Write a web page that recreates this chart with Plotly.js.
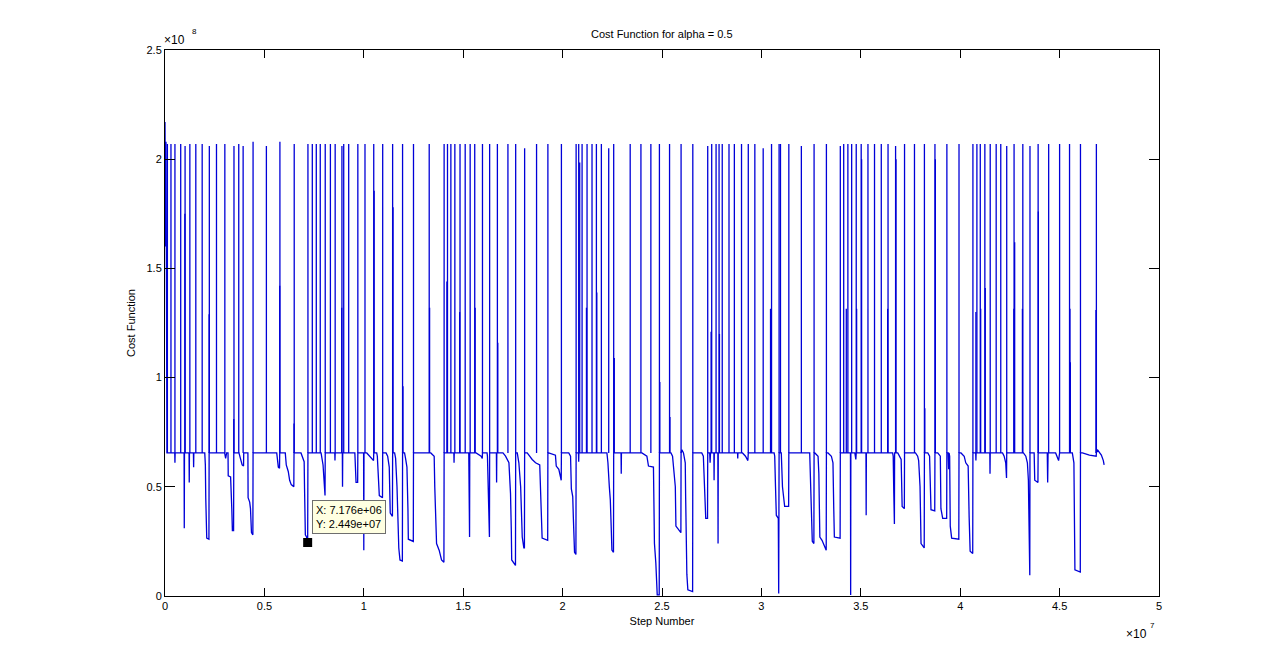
<!DOCTYPE html>
<html>
<head>
<meta charset="utf-8">
<script src="https://cdn.plot.ly/plotly-3.0.1.min.js"></script>
<style>html,body{margin:0;padding:0;background:#fff;}#chart{width:1280px;height:670px;}</style>
</head>
<body>
<div id="chart"></div>
<script>
// x in units of 1e7 steps, y in units of 1e8
const xScale = 1e7, yScale = 1e8;
const baseLevel = 0.655;

// running level of the cost function (baseline with dips)
const levelX = [0.000,0.003,0.005,0.007,0.010,
0.049,0.050,0.051,0.096,0.097,0.098,0.121,0.122,0.123,0.143,0.144,0.145,
0.200,0.203,0.205,0.207,0.210,0.221,0.222,0.300,0.305,0.310,
0.317,0.318,0.330,0.336,0.339,0.345,0.346,0.372,0.380,0.388,0.395,0.396,
0.417,0.418,0.426,0.430,0.435,0.442,0.443,0.562,0.570,0.576,0.577,
0.605,0.610,0.620,0.627,0.635,0.648,0.649,
0.684,0.690,0.700,0.702,0.706,0.712,0.7176,0.719,
0.785,0.795,0.800,0.805,0.806,0.854,0.855,0.856,0.892,0.893,0.894,
0.955,0.958,0.961,0.969,0.970,0.999,1.000,1.001,1.015,1.030,1.049,1.050,
1.065,1.068,1.073,1.078,1.094,1.095,
1.112,1.120,1.128,1.130,1.133,1.144,1.145,
1.155,1.160,1.167,1.172,1.176,1.182,1.194,1.195,
1.205,1.210,1.217,1.222,1.224,1.249,1.250,
1.337,1.354,1.357,1.362,1.366,1.379,1.391,1.403,1.404,
1.453,1.454,1.455,1.528,1.529,1.530,1.532,1.533,
1.565,1.590,1.596,1.597,1.620,1.622,1.625,1.630,1.632,1.633,
1.667,1.668,1.669,
1.700,1.713,1.730,1.738,1.742,1.744,1.763,1.764,
1.772,1.780,1.789,1.797,1.805,1.808,1.809,
1.822,1.847,1.864,1.885,1.889,1.895,1.897,1.925,1.926,
1.930,1.964,1.968,1.981,1.993,1.994,
2.031,2.040,2.044,2.051,2.054,2.060,2.067,2.068,2.080,2.081,2.082,
2.223,2.228,2.235,2.240,2.245,2.248,2.256,2.257,2.294,2.295,2.296,
2.399,2.424,2.432,2.457,2.462,2.469,2.476,2.486,2.487,
2.545,2.553,2.563,2.567,2.570,2.590,2.595,2.596,
2.600,2.608,2.617,2.619,2.621,2.625,2.630,2.654,2.655,
2.700,2.708,2.717,2.720,2.729,2.730,2.740,2.742,2.744,2.761,2.762,2.763,2.781,2.782,2.783,
2.880,2.881,2.882,2.905,2.920,2.932,2.934,
3.064,3.067,3.071,3.075,3.085,3.087,3.089,
3.100,3.106,3.112,3.117,3.137,3.138,
3.243,3.248,3.251,3.256,3.264,3.265,
3.269,3.285,3.289,3.294,3.305,3.318,3.326,3.327,
3.335,3.352,3.360,3.364,3.367,3.396,3.397,
3.448,3.449,3.450,3.470,3.475,3.477,3.526,3.527,3.528,
3.660,3.663,3.666,3.669,3.670,
3.686,3.703,3.708,3.719,3.720,
3.775,3.786,3.791,3.798,3.803,3.819,3.820,
3.837,3.846,3.850,3.853,3.872,3.873,
3.887,3.900,3.903,3.912,3.932,3.933,
3.940,3.942,3.944,3.947,3.950,3.957,3.993,3.994,
4.004,4.020,4.028,4.040,4.045,4.050,4.063,4.064,
4.078,4.079,4.080,4.149,4.150,4.151,
4.213,4.221,4.229,4.233,4.234,
4.318,4.330,4.338,4.343,4.347,4.350,4.351,
4.372,4.375,4.391,4.392,4.438,4.440,4.442,4.480,4.495,4.500,
4.564,4.572,4.575,4.577,4.604,4.605,
4.615,4.650,4.684,4.685,4.690,4.700,4.710,4.720,4.724];

const levelY = [2.17,1.60,2.08,0.77,0.655,
0.655,0.61,0.655,0.655,0.31,0.655,0.655,0.52,0.655,0.655,0.59,0.655,
0.655,0.60,0.45,0.28,0.265,0.26,0.655,0.655,0.63,0.655,
0.655,0.55,0.545,0.40,0.30,0.30,0.655,0.655,0.63,0.60,0.595,0.655,
0.655,0.45,0.43,0.40,0.29,0.28,0.655,0.655,0.59,0.585,0.655,
0.655,0.60,0.57,0.53,0.51,0.50,0.655,
0.655,0.64,0.615,0.49,0.28,0.27,0.2449,0.655,
0.655,0.60,0.52,0.46,0.655,0.655,0.62,0.655,0.655,0.50,0.655,
0.655,0.60,0.52,0.52,0.655,0.655,0.21,0.655,0.655,0.64,0.62,0.655,
0.655,0.64,0.53,0.46,0.45,0.655,
0.655,0.64,0.59,0.50,0.38,0.365,0.655,
0.655,0.63,0.50,0.30,0.22,0.165,0.16,0.655,
0.655,0.63,0.59,0.40,0.26,0.25,0.655,
0.655,0.64,0.50,0.30,0.24,0.21,0.165,0.155,0.655,
0.655,0.61,0.655,0.655,0.45,0.655,0.27,0.655,
0.655,0.64,0.63,0.655,0.655,0.64,0.49,0.27,0.27,0.655,
0.655,0.52,0.655,
0.655,0.64,0.61,0.47,0.30,0.165,0.14,0.655,
0.655,0.61,0.50,0.27,0.22,0.22,0.655,
0.655,0.625,0.61,0.60,0.50,0.30,0.265,0.255,0.655,
0.655,0.645,0.595,0.58,0.53,0.655,
0.655,0.64,0.49,0.455,0.36,0.20,0.19,0.655,0.655,0.615,0.655,
0.655,0.61,0.50,0.44,0.30,0.21,0.20,0.655,0.655,0.56,0.655,
0.655,0.64,0.595,0.59,0.24,0.15,0.005,0.005,0.655,
0.655,0.64,0.56,0.50,0.32,0.30,0.29,0.655,
0.67,0.655,0.61,0.45,0.27,0.10,0.028,0.02,0.655,
0.655,0.64,0.43,0.355,0.355,0.655,0.655,0.61,0.655,0.655,0.53,0.655,0.655,0.24,0.655,
0.655,0.63,0.655,0.655,0.64,0.62,0.655,
0.655,0.64,0.50,0.37,0.355,0.012,0.655,
0.655,0.50,0.44,0.41,0.41,0.655,
0.655,0.50,0.30,0.25,0.24,0.655,
0.655,0.64,0.56,0.27,0.255,0.23,0.21,0.655,
0.655,0.64,0.61,0.40,0.27,0.265,0.655,
0.655,0.005,0.655,0.655,0.625,0.655,0.655,0.37,0.655,
0.655,0.64,0.47,0.33,0.655,
0.655,0.625,0.41,0.40,0.655,
0.655,0.64,0.62,0.50,0.24,0.22,0.655,
0.655,0.64,0.52,0.395,0.39,0.655,
0.655,0.64,0.40,0.355,0.355,0.655,
0.655,0.58,0.655,0.64,0.32,0.265,0.26,0.655,
0.655,0.64,0.61,0.595,0.36,0.205,0.195,0.655,
0.655,0.62,0.655,0.655,0.56,0.655,
0.655,0.64,0.61,0.54,0.655,
0.655,0.64,0.61,0.53,0.095,0.095,0.655,
0.655,0.53,0.52,0.655,0.655,0.52,0.655,0.655,0.62,0.655,
0.655,0.61,0.40,0.12,0.11,0.655,
0.655,0.645,0.64,0.655,0.67,0.655,0.645,0.62,0.60];

// single-sample spikes (reset events)
const spikeX = [0.012,0.030,0.050,0.079,0.100,0.101,0.125,0.155,0.187,0.222,0.223,0.259,0.301,0.346,0.347,0.371,0.393,0.443,0.510,0.577,0.578,0.649,0.650,
0.719,0.741,0.761,0.781,0.806,0.832,0.856,0.889,0.890,0.899,0.924,0.970,1.006,1.050,1.052,1.095,1.145,1.147,1.195,1.197,1.250,
1.329,1.331,1.404,1.418,1.421,1.438,1.458,1.482,1.484,1.510,1.535,1.558,1.560,1.597,1.633,1.672,1.674,1.725,1.764,1.809,1.869,1.926,
1.994,2.068,2.081,2.086,2.098,2.120,2.123,2.148,2.170,2.172,2.195,2.232,2.257,2.260,2.340,2.394,2.444,2.487,2.489,2.538,2.540,
2.596,2.655,2.730,2.747,2.750,2.772,2.787,2.789,2.803,2.837,2.864,2.900,2.934,2.967,3.009,3.046,3.051,3.089,3.096,3.138,
3.201,3.265,3.327,3.397,3.414,3.427,3.435,3.454,3.477,3.479,3.502,3.504,3.536,3.569,3.603,3.635,3.637,3.675,3.677,3.720,
3.770,3.820,3.822,3.873,3.875,3.933,3.994,4.064,4.079,4.084,4.101,4.103,4.124,4.126,4.151,4.181,4.204,4.234,4.270,4.271,
4.274,4.313,4.315,4.351,4.392,4.393,4.445,4.500,4.550,4.552,4.554,4.605,4.683,4.685];

const spikeTop = [2.07,2.07,2.07,2.07,1.75,2.06,2.07,2.07,2.07,1.29,2.06,2.07,2.07,0.81,2.06,2.07,2.06,2.08,2.06,1.42,2.08,0.79,2.07,
2.07,2.07,2.07,2.07,2.07,2.07,2.07,1.32,2.06,2.07,2.07,2.07,2.07,2.07,1.855,2.07,2.07,1.78,2.07,0.96,2.07,
2.07,1.32,2.07,1.44,2.07,2.07,2.07,1.30,2.07,2.07,2.07,2.07,1.32,2.07,2.07,2.07,1.16,2.07,2.07,2.05,2.07,2.07,
2.07,2.07,2.07,1.985,2.07,1.32,2.07,2.07,2.07,1.39,2.07,2.05,2.07,1.09,2.07,2.07,2.07,2.07,0.98,2.07,0.82,
2.07,2.07,2.06,1.21,2.07,2.07,2.07,1.20,2.07,2.07,2.07,2.07,2.07,2.07,2.05,1.315,2.07,2.07,2.07,2.07,
2.06,2.07,2.07,2.06,2.07,1.315,2.07,2.07,2.07,1.315,2.07,2.00,2.07,2.07,2.07,1.315,2.07,2.06,2.00,2.07,
2.07,2.07,0.86,2.07,2.00,2.07,2.07,2.07,1.30,2.07,2.07,1.315,2.07,1.41,2.07,2.07,2.07,2.06,1.315,2.07,
1.62,1.315,2.07,2.06,2.07,1.76,2.07,2.07,2.07,1.315,1.07,2.07,1.31,2.07];

// data tip
const tipX = 7.176e6, tipY = 2.449e7;

const xTicks = [0,0.5,1,1.5,2,2.5,3,3.5,4,4.5,5];
const yTicks = [0,0.5,1,1.5,2,2.5];
const xExp = 7, yExp = 8;

const sx = [], sy = [];
for (let i = 0; i < spikeX.length; i++) {
  sx.push(spikeX[i], spikeX[i], null);
  sy.push(baseLevel, spikeTop[i], null);
}

function fmt(v) {
  return v.toExponential(3).replace(/e([+-])(\d)$/, 'e$10$2');
}

const blue = '#0000d8';
const family = 'Liberation Sans, Arial, Helvetica, sans-serif';
const font = {family: family, size: 11, color: '#000'};
const supFont = {family: family, size: 8, color: '#000'};

const traces = [
  {x: levelX, y: levelY, type: 'scatter', mode: 'lines', line: {color: blue, width: 1.3}, hoverinfo: 'skip'},
  {x: sx, y: sy, type: 'scatter', mode: 'lines', line: {color: blue, width: 1.3}, connectgaps: false, hoverinfo: 'skip'},
  {x: [tipX / xScale], y: [tipY / yScale], type: 'scatter', mode: 'markers',
   marker: {symbol: 'square', size: 9, color: '#000'}, hoverinfo: 'skip'}
];

const axisCommon = {
  showgrid: false, zeroline: false, showline: true, linecolor: '#000', linewidth: 1,
  mirror: 'ticks', ticks: 'inside', tickcolor: '#000', tickwidth: 1,
  tickfont: font, fixedrange: true
};

const layout = {
  width: 1280, height: 670,
  paper_bgcolor: '#fff', plot_bgcolor: '#fff',
  margin: {l: 165, r: 121, t: 50, b: 74},
  showlegend: false,
  font: font,
  title: {text: 'Cost Function for alpha = 0.5', font: font, x: 0.517, xanchor: 'center', xref: 'container', y: 0.949, yanchor: 'middle', yref: 'container'},
  xaxis: Object.assign({}, axisCommon, {
    range: [0, 5], tickvals: xTicks, ticktext: xTicks.map(String), ticklen: 8,
    title: {text: 'Step Number', font: font, standoff: 6}
  }),
  yaxis: Object.assign({}, axisCommon, {
    range: [0, 2.5], tickvals: yTicks, ticktext: yTicks.map(String), ticklen: 10,
    title: {text: 'Cost Function', font: font, standoff: 8}
  }),
  annotations: [
    {xref: 'paper', yref: 'paper', x: 0, y: 1, xanchor: 'left', yanchor: 'middle', xshift: -3, yshift: 10,
     showarrow: false, text: '×10', font: {family: family, size: 12, color: '#000'}},
    {xref: 'paper', yref: 'paper', x: 0, y: 1, xanchor: 'left', yanchor: 'middle', xshift: 25, yshift: 19,
     showarrow: false, text: String(yExp), font: supFont},
    {xref: 'paper', yref: 'paper', x: 1, y: 0, xanchor: 'right', yanchor: 'middle', xshift: -10, yshift: -38,
     showarrow: false, text: '×10', font: {family: family, size: 12, color: '#000'}},
    {xref: 'paper', yref: 'paper', x: 1, y: 0, xanchor: 'left', yanchor: 'middle', xshift: -11, yshift: -29,
     showarrow: false, text: String(xExp), font: supFont},
    {xref: 'x', yref: 'y', x: tipX / xScale, y: tipY / yScale, xanchor: 'left', yanchor: 'bottom',
     xshift: 4, yshift: 9, showarrow: false, align: 'left',
     text: 'X: ' + fmt(tipX) + '<br>Y: ' + fmt(tipY),
     bgcolor: '#ffffe1', bordercolor: '#6e6e6e', borderwidth: 1, borderpad: 3, font: font}
  ]
};

Plotly.newPlot('chart', traces, layout, {staticPlot: true, displayModeBar: false});
</script>
</body>
</html>
